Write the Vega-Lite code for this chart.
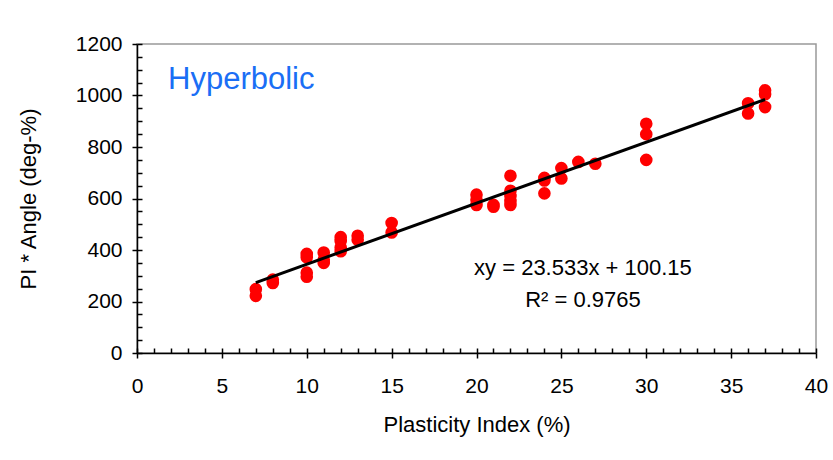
{
  "$schema": "https://vega.github.io/schema/vega-lite/v6.json",
  "width": 679,
  "height": 309,
  "autosize": {"type": "none"},
  "padding": {"left": 137, "top": 44, "right": 17, "bottom": 107},
  "background": "white",
  "config": {
    "font": "Liberation Sans",
    "view": {"stroke": "#999999", "strokeWidth": 1.5},
    "axis": {"grid": false, "labelFlush": false, "domainColor": "black", "domainWidth": 1.5, "tickColor": "black", "tickWidth": 1.5, "labelColor": "black", "titleColor": "black", "labelFontSize": 21, "titleFontSize": 22, "titleFontWeight": "normal", "labelFont": "Liberation Sans", "titleFont": "Liberation Sans"}
  },
  "data": {
    "values": [
      {"pi": 7, "angle": 248}, {"pi": 7, "angle": 222},
      {"pi": 8, "angle": 285}, {"pi": 8, "angle": 272},
      {"pi": 10, "angle": 385}, {"pi": 10, "angle": 372}, {"pi": 10, "angle": 312}, {"pi": 10, "angle": 296},
      {"pi": 11, "angle": 390}, {"pi": 11, "angle": 362}, {"pi": 11, "angle": 350},
      {"pi": 12, "angle": 450}, {"pi": 12, "angle": 435}, {"pi": 12, "angle": 410}, {"pi": 12, "angle": 395},
      {"pi": 13, "angle": 455}, {"pi": 13, "angle": 440},
      {"pi": 15, "angle": 505}, {"pi": 15, "angle": 468},
      {"pi": 20, "angle": 615}, {"pi": 20, "angle": 595}, {"pi": 20, "angle": 575},
      {"pi": 21, "angle": 575}, {"pi": 21, "angle": 568},
      {"pi": 22, "angle": 688}, {"pi": 22, "angle": 630}, {"pi": 22, "angle": 610}, {"pi": 22, "angle": 590}, {"pi": 22, "angle": 575},
      {"pi": 24, "angle": 680}, {"pi": 24, "angle": 670}, {"pi": 24, "angle": 620},
      {"pi": 25, "angle": 718}, {"pi": 25, "angle": 678},
      {"pi": 26, "angle": 742},
      {"pi": 27, "angle": 735},
      {"pi": 30, "angle": 890}, {"pi": 30, "angle": 850}, {"pi": 30, "angle": 750},
      {"pi": 36, "angle": 970}, {"pi": 36, "angle": 930},
      {"pi": 37, "angle": 1020}, {"pi": 37, "angle": 1005}, {"pi": 37, "angle": 955}
    ]
  },
  "layer": [
    {
      "mark": {"type": "point", "filled": true, "size": 160, "color": "#ff0000", "opacity": 1},
      "encoding": {
        "x": {"field": "pi", "type": "quantitative", "scale": {"domain": [0, 40], "nice": false, "zero": true},
              "axis": {"values": [0, 5, 10, 15, 20, 25, 30, 35, 40], "format": "d", "tickSize": 5, "labelPadding": 17, "title": "Plasticity Index (%)", "titlePadding": 18}},
        "y": {"field": "angle", "type": "quantitative", "scale": {"domain": [0, 1200], "nice": false},
              "axis": {"values": [0, 200, 400, 600, 800, 1000, 1200], "format": "d", "tickSize": 5, "labelPadding": 10, "title": "PI * Angle (deg-%)", "titlePadding": 35}}
      }
    },
    {
      "transform": [{"regression": "angle", "on": "pi", "method": "linear"}],
      "mark": {"type": "line", "color": "black", "strokeWidth": 3},
      "encoding": {
        "x": {"field": "pi", "type": "quantitative",
              "axis": {"orient": "bottom", "values": [0,1,2,3,4,5,6,7,8,9,10,11,12,13,14,15,16,17,18,19,20,21,22,23,24,25,26,27,28,29,30,31,32,33,34,35,36,37,38,39,40], "tickSize": -5, "labels": false, "domain": false, "title": null}},
        "y": {"field": "angle", "type": "quantitative",
              "axis": {"orient": "left", "values": [0,50,100,150,200,250,300,350,400,450,500,550,600,650,700,750,800,850,900,950,1000,1050,1100,1150,1200], "tickSize": -5, "labels": false, "domain": false, "title": null}}
      }
    },
    {
      "data": {"values": [{"tx": 1.83, "ty": 1060, "label": "Hyperbolic"}]},
      "mark": {"type": "text", "align": "left", "baseline": "middle", "fontSize": 31, "color": "#1a6ef5", "font": "Liberation Sans"},
      "encoding": {
        "x": {"field": "tx", "type": "quantitative", "axis": null},
        "y": {"field": "ty", "type": "quantitative", "axis": null},
        "text": {"field": "label"}
      }
    },
    {
      "data": {"values": [{"tx": 26.27, "ty": 330, "label": "xy = 23.533x + 100.15"}, {"tx": 26.27, "ty": 206, "label": "R² = 0.9765"}]},
      "mark": {"type": "text", "align": "center", "baseline": "middle", "fontSize": 22, "color": "black", "font": "Liberation Sans"},
      "encoding": {
        "x": {"field": "tx", "type": "quantitative", "axis": null},
        "y": {"field": "ty", "type": "quantitative", "axis": null},
        "text": {"field": "label"}
      }
    }
  ],
  "resolve": {"axis": {"x": "independent", "y": "independent"}}
}
